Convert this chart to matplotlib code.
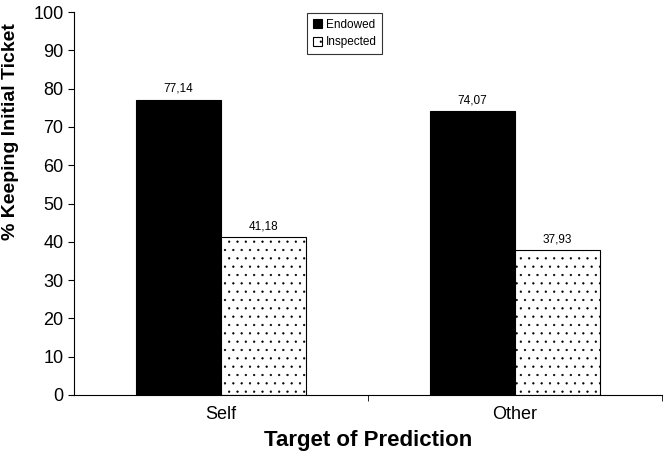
import numpy as np
import matplotlib.pyplot as plt

plt.rcParams['font.family'] = ['Liberation Sans', 'DejaVu Sans']
plt.rcParams['hatch.linewidth'] = 0.4

categories = ['Self', 'Other']
endowed = [77.14, 74.07]
inspected = [41.18, 37.93]
series_names = ['Endowed', 'Inspected']

fig = plt.figure(figsize=(6.64, 4.57), dpi=100)
ax = fig.add_axes([0.1114, 0.1357, 0.8856, 0.838])

x = np.arange(len(categories))
w = 0.29
b1 = ax.bar(x - w/2, endowed, w, color='black', edgecolor='black', linewidth=0.8, label=series_names[0])
b2 = ax.bar(x + w/2, inspected, w, color='white', edgecolor='black', linewidth=0.8,
            hatch='..', label=series_names[1])

# value labels with decimal comma
for bars, vals in ((b1, endowed), (b2, inspected)):
    for r, v in zip(bars, vals):
        ax.text(r.get_x() + r.get_width()/2, v + 1.2, f'{v:.2f}'.replace('.', ','),
                ha='center', va='bottom', fontsize=8.5)

ax.set_xlim(-0.5, 1.5)
ax.set_ylim(0, 100)
ax.set_yticks(np.arange(0, 101, 10))
ax.tick_params(axis='y', labelsize=13, length=4, direction='out')
ax.set_xticks(x)
ax.set_xticklabels(categories, fontsize=13)
ax.tick_params(axis='x', length=0, pad=8)
ax.set_xticks([0.5, 1.5], minor=True)
ax.tick_params(axis='x', which='minor', length=4, direction='out')

ax.spines['top'].set_visible(False)
ax.spines['right'].set_visible(False)

ax.set_ylabel('% Keeping Initial Ticket', fontsize=14, fontweight='bold')
ax.yaxis.set_label_coords(-0.0935, 0.687)
ax.set_xlabel('Target of Prediction', fontsize=16, fontweight='bold', labelpad=5)

leg = ax.legend(loc='center', bbox_to_anchor=(0.46, 0.944), fontsize=8.5, frameon=True,
                fancybox=False, edgecolor='black', handlelength=0.8, handleheight=0.8,
                handletextpad=0.3, borderpad=0.45, labelspacing=0.5)
leg.get_frame().set_linewidth(0.8)

fig.savefig('out.png', dpi=100)
